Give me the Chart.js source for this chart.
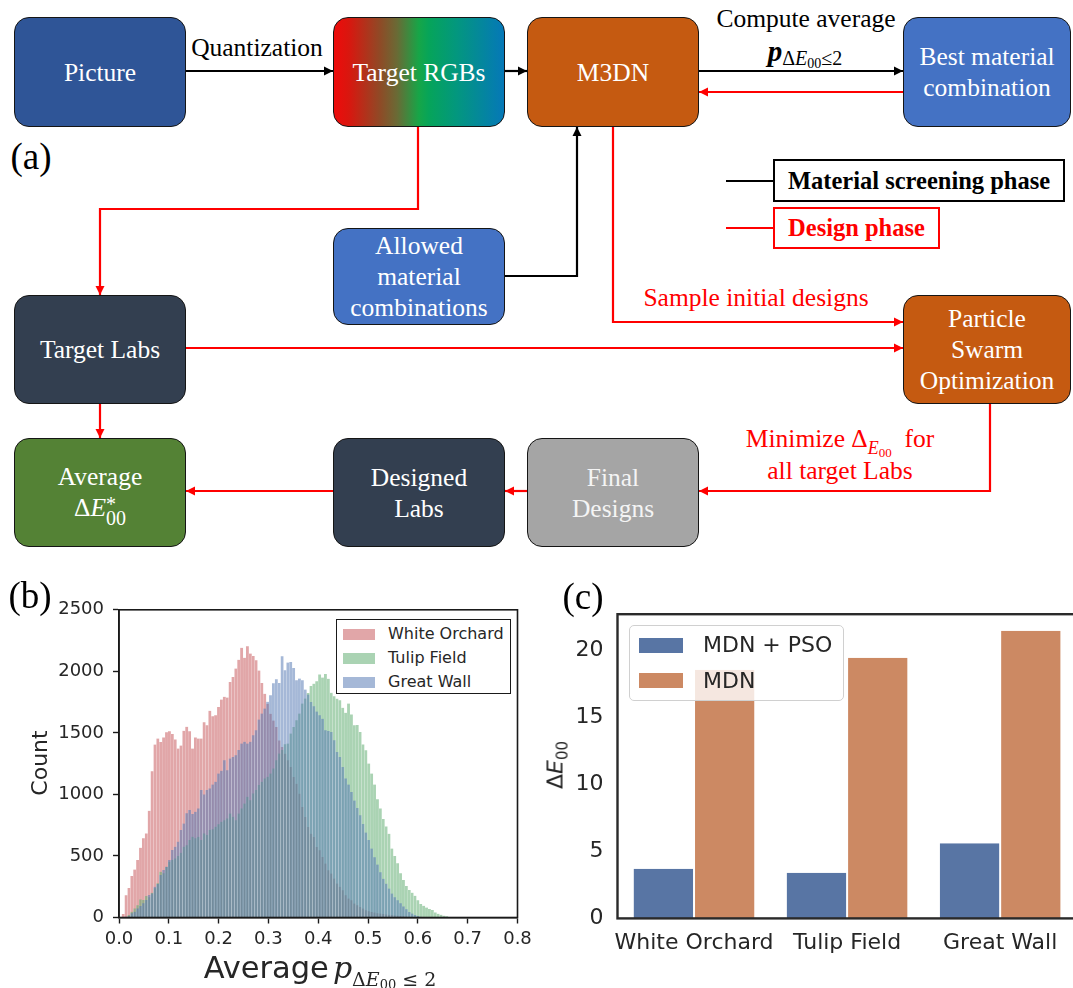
<!DOCTYPE html>
<html><head><meta charset="utf-8">
<script src="https://cdn.jsdelivr.net/npm/chart.js@4.4.0/dist/chart.umd.min.js"></script>
<style>
html,body{margin:0;padding:0;background:#fff;overflow:hidden;}
#root{position:relative;width:1073px;height:988px;overflow:hidden;background:#fff;font-family:"Liberation Serif",serif;}
.box{position:absolute;box-sizing:border-box;border:1.4px solid #151515;border-radius:15px;color:#fff;display:flex;align-items:center;justify-content:center;text-align:center;font-size:25.5px;line-height:31px;}
.lbl{position:absolute;white-space:nowrap;transform:translate(-50%,-50%);}
canvas{position:absolute;}
.sans{font-family:"DejaVu Sans",sans-serif;}
</style></head>
<body><div id="root">
<svg id="arrows" width="1073" height="988" style="position:absolute;left:0;top:0"></svg>

<div class="box" style="left:14px;top:17px;width:172px;height:110px;background:#2f5597">Picture</div>
<div class="box" style="left:333px;top:17px;width:172px;height:110px;background:linear-gradient(90deg,#ee0b0b 0%,#d8170f 9%,#8f4a26 27%,#6a6a35 37%,#16a648 50%,#06a45a 56%,#03977e 72%,#0578b8 100%)">Target RGBs</div>
<div class="box" style="left:527px;top:17px;width:172px;height:110px;background:#c55a11">M3DN</div>
<div class="box" style="left:903px;top:17px;width:168px;height:110px;background:#4472c4">Best material<br>combination</div>
<div class="box" style="left:333px;top:228px;width:172px;height:97px;background:#4472c4">Allowed<br>material<br>combinations</div>
<div class="box" style="left:14px;top:295px;width:172px;height:109px;background:#333f50">Target Labs</div>
<div class="box" style="left:903px;top:295px;width:168px;height:109px;background:#c55a11">Particle<br>Swarm<br>Optimization</div>
<div class="box" style="left:14px;top:438px;width:172px;height:109px;background:#548235"><div>Average<br><span>Δ<i>E</i></span><span style="display:inline-block;vertical-align:-9px;line-height:14px;font-size:20px;text-align:left">*<br>00</span></div></div>
<div class="box" style="left:333px;top:438px;width:172px;height:109px;background:#333f50">Designed<br>Labs</div>
<div class="box" style="left:527px;top:438px;width:172px;height:109px;background:#a5a5a5;color:#f4f4f4">Final<br>Designs</div>

<div class="lbl" style="left:257px;top:48px;font-size:25.5px">Quantization</div>
<div class="lbl" style="left:806px;top:19px;font-size:25.5px">Compute average</div>
<div class="lbl" style="left:805px;top:54px;font-size:29px;line-height:30px"><b><i>p</i></b><span style="font-size:20px;position:relative;top:4px">Δ<i>E</i><span style="font-size:14px;position:relative;top:3px">00</span>≤2</span></div>
<div class="lbl" style="left:31px;top:156px;font-size:37px">(a)</div>
<div style="position:absolute;left:773px;top:159px;width:292px;height:43px;box-sizing:border-box;border:2px solid #000;font-weight:bold;font-size:24.5px;display:flex;align-items:center;justify-content:center;background:#fff">Material screening phase</div>
<div style="position:absolute;left:773px;top:207px;width:167px;height:42px;box-sizing:border-box;border:2px solid #f00;color:#f00;font-weight:bold;font-size:24.5px;display:flex;align-items:center;justify-content:center;background:#fff">Design phase</div>
<div class="lbl" style="left:756px;top:298px;font-size:25.5px;color:#f00">Sample initial designs</div>
<div class="lbl" style="left:840px;top:439px;font-size:25.5px;color:#f00">Minimize Δ<span style="font-size:18px;position:relative;top:7px"><i>E</i><span style="font-size:13px;position:relative;top:3px">00</span></span>&nbsp; for</div>
<div class="lbl" style="left:840px;top:471px;font-size:25.5px;color:#f00">all target Labs</div>

<canvas id="hist" width="545" height="398" style="left:0;top:590px;width:545px;height:398px"></canvas>
<canvas id="bars" width="545" height="401" style="left:540px;top:587px;width:545px;height:401px"></canvas>

<div class="lbl" style="left:30px;top:595px;font-size:37px">(b)</div>
<div class="lbl" style="left:583px;top:596px;font-size:37px">(c)</div>
<div class="lbl sans" style="left:39px;top:763px;font-size:22px;color:#262626;transform:translate(-50%,-50%) rotate(-90deg)">Count</div>
<div class="lbl" style="left:320px;top:967px;color:#262626"><span class="sans" style="font-size:30.5px">Average</span> <span style="font-family:'DejaVu Serif',serif;font-style:italic;font-size:30px">p</span><span style="font-family:'DejaVu Serif',serif;font-size:19px;position:relative;top:8px">Δ<i>E</i><span style="font-size:13px;position:relative;top:3px">00</span> ≤ 2</span></div>
<div class="lbl sans" style="left:555px;top:765px;font-size:22px;color:#262626;transform:translate(-50%,-50%) rotate(-90deg)">Δ<i>E</i><span style="font-size:15px;position:relative;top:5px">00</span></div>

<div id="legB" style="position:absolute;left:336px;top:619px;width:175px;height:75px;box-sizing:border-box;border:1.6px solid #1a1a1a;background:#fff"></div>
<div id="legC" style="position:absolute;left:629px;top:625px;width:215px;height:76px;box-sizing:border-box;border:1.2px solid #d0d0d0;border-radius:5px;background:rgba(255,255,255,0.8)"></div>
</div>

<script>
// ---------- data: panel (b) histogram ----------
const histBinStart = 0.0055;
const histBinWidth = 0.0058;
const histXTicks = [0.0, 0.1, 0.2, 0.3, 0.4, 0.5, 0.6, 0.7, 0.8];
const histYTicks = [0, 500, 1000, 1500, 2000, 2500];
const histSeriesNames = ['White Orchard', 'Tulip Field', 'Great Wall'];
const whiteOrchard = [28,180,240,337,390,467,567,643,683,867,
 1189,1405,1454,1425,1463,1506,1514,1490,1447,1373,
 1397,1517,1549,1514,1373,1463,1454,1454,1587,1562,
 1679,1636,1644,1711,1771,1793,1787,1914,1955,2023,
 2094,2192,2110,2203,2144,2125,2090,2007,1905,1817,
 1737,1655,1600,1547,1439,1385,1331,1277,1223,1141,
 1087,1006,898,816,735,681,654,573,546,492,
 438,384,357,316,276,249,221,181,154,140,
 113,100,86,73,59,50,45,40,35,32,
 28,25,22,20,17,15,12,10,8,6,
 5,3,2,1];
const tulipField = [0,0,20,47,74,100,147,142,174,165,
 201,237,278,372,359,412,453,467,480,500,
 526,575,588,629,656,643,656,629,683,670,
 710,717,737,758,777,791,805,845,818,791,
 845,886,926,981,953,1008,1035,1076,1103,1130,
 1143,1170,1211,1278,1332,1360,1407,1413,1494,1548,
 1603,1657,1738,1779,1824,1880,1900,1920,1975,1950,
 1978,1940,1826,1798,1778,1765,1704,1663,1738,1650,
 1562,1564,1507,1406,1358,1251,1170,1080,960,886,
 800,740,680,560,500,440,359,305,256,223,
 202,176,140,110,95,81,70,60,41,30,
 22,15,11,5,2];
const greatWall = [0,7,10,34,47,74,93,115,142,183,
 196,250,272,345,385,412,467,548,575,616,
 710,764,846,873,840,859,886,1035,1000,1035,
 1049,1080,1103,1170,1192,1278,1197,1292,1305,1319,
 1360,1413,1427,1413,1427,1481,1522,1609,1657,1698,
 1752,1805,1904,1936,1905,2122,2008,2071,2075,2028,
 1927,1942,1927,1852,1811,1751,1717,1673,1643,1615,
 1521,1516,1508,1440,1345,1305,1223,1130,1080,1020,
 950,890,830,760,690,630,560,490,430,368,
 315,275,235,195,165,140,115,90,68,45,
 32,20,12,6,3];

// ---------- data: panel (c) bars ----------
const barCategories = ['White Orchard', 'Tulip Field', 'Great Wall'];
const barSeriesNames = ['MDN + PSO', 'MDN'];
const mdnPso = [3.7, 3.4, 5.6];
const mdnOnly = [18.55, 19.45, 21.47];
const barYTicks = [0, 5, 10, 15, 20];

// ---------- flowchart connectors ----------
(function(){
  const svg = document.getElementById('arrows');
  const NS = 'http://www.w3.org/2000/svg';
  function path(pts, color, head){
    const pl = document.createElementNS(NS,'polyline');
    pl.setAttribute('points', pts.map(p=>p.join(',')).join(' '));
    pl.setAttribute('fill','none'); pl.setAttribute('stroke',color);
    pl.setAttribute('stroke-width','2.2'); pl.setAttribute('stroke-linejoin','miter');
    svg.appendChild(pl);
    if(head){
      const [x1,y1] = pts[pts.length-2], [x2,y2] = pts[pts.length-1];
      const a = Math.atan2(y2-y1,x2-x1), L=9, W=4.5;
      const bx = x2 - L*Math.cos(a), by = y2 - L*Math.sin(a);
      const pg = document.createElementNS(NS,'polygon');
      pg.setAttribute('points', [[x2,y2],[bx+W*Math.sin(a),by-W*Math.cos(a)],[bx-W*Math.sin(a),by+W*Math.cos(a)]].map(p=>p.join(',')).join(' '));
      pg.setAttribute('fill',color);
      svg.appendChild(pg);
    }
  }
  const K='#000', R='#ff0000';
  path([[186,71],[333,71]],K,1);
  path([[505,71],[527,71]],K,1);
  path([[699,71],[903,71]],K,1);
  path([[903,92],[699,92]],R,1);
  path([[505,276],[577,276],[577,127]],K,1);
  path([[613,127],[613,322],[903,322]],R,1);
  path([[418,127],[418,209],[100,209],[100,295]],R,1);
  path([[186,348],[903,348]],R,1);
  path([[100,404],[100,438]],R,1);
  path([[990,404],[990,491],[699,491]],R,1);
  path([[527,491],[505,491]],R,1);
  path([[333,491],[186,491]],R,1);
  path([[726,181],[773,181]],K,0);
  path([[726,228],[773,228]],R,0);
})();

// ---------- charts ----------
const framePlugin = {
  id:'frame',
  afterDraw(chart, args, o){
    const {ctx, chartArea:a} = chart;
    ctx.save(); ctx.strokeStyle = o.color; ctx.lineWidth = o.width;
    ctx.strokeRect(a.left, a.top, a.right-a.left, a.bottom-a.top);
    ctx.restore();
  }
};

const histColors = ['rgba(196,78,82,0.5)','rgba(85,168,104,0.5)','rgba(76,114,176,0.5)'];
const histOrder = [3, 2, 1];
const histData = [whiteOrchard, tulipField, greatWall];
function binned(arr){ return arr.map((v,i)=>({x: histBinStart + (i+0.5)*histBinWidth, y: v})); }

new Chart(document.getElementById('hist'), {
  type:'bar',
  data:{ datasets: histData.map((arr,k)=>({
    label: histSeriesNames[k], data: binned(arr), order: histOrder[k],
    backgroundColor: histColors[k],
    borderColor:'rgba(255,255,255,0.3)',
    borderWidth:{left:0.35,right:0.35,top:0,bottom:0},
    borderSkipped:false,
    grouped:false, barPercentage:1, categoryPercentage:1
  }))},
  options:{
    responsive:false, animation:false, devicePixelRatio:1,
    layout:{padding:{left:0,right:27.5,top:19.5,bottom:0}},
    plugins:{legend:{display:false}, tooltip:{enabled:false}, frame:{color:'#1a1a1a', width:1.6}},
    scales:{
      x:{type:'linear', min:0, max:0.8, offset:false,
        grid:{display:true, drawOnChartArea:false, drawTicks:true, tickLength:6, tickColor:'#1a1a1a', tickWidth:1.4, offset:false},
        border:{display:true, color:'#1a1a1a', width:1.6},
        afterBuildTicks: s => { s.ticks = histXTicks.map(v=>({value:v})); },
        ticks:{color:'#262626', font:{family:'DejaVu Sans', size:18}, padding:5, maxRotation:0, autoSkip:false,
          callback: v => Number(v).toFixed(1)},
        afterFit: s => { s.height = 70.5; }
      },
      y:{min:0, max:2500,
        grid:{display:true, drawOnChartArea:false, drawTicks:true, tickLength:6, tickColor:'#1a1a1a', tickWidth:1.4},
        border:{display:true, color:'#1a1a1a', width:1.6},
        afterBuildTicks: s => { s.ticks = histYTicks.map(v=>({value:v})); },
        ticks:{color:'#262626', font:{family:'DejaVu Sans', size:18}, padding:9, callback: v => String(v)},
        afterFit: s => { s.width = 119; }
      }
    }
  },
  plugins:[framePlugin]
});

new Chart(document.getElementById('bars'), {
  type:'bar',
  data:{ labels: barCategories, datasets:[
    {label: barSeriesNames[0], data: mdnPso, backgroundColor:'#5875a4', borderColor:'#ffffff', borderWidth:{left:1,right:1,top:0,bottom:0}, borderSkipped:false},
    {label: barSeriesNames[1], data: mdnOnly, backgroundColor:'#cc8963', borderColor:'#ffffff', borderWidth:{left:1,right:1,top:0,bottom:0}, borderSkipped:false}
  ]},
  options:{
    responsive:false, animation:false, devicePixelRatio:1,
    layout:{padding:{left:0,right:8.3,top:0,bottom:0}},
    datasets:{bar:{barPercentage:1, categoryPercentage:0.8}},
    plugins:{legend:{display:false}, tooltip:{enabled:false}, frame:{color:'#2a2a2a', width:2.4}},
    scales:{
      x:{grid:{display:false, drawTicks:false}, border:{display:false},
        ticks:{color:'#262626', font:{family:'DejaVu Sans', size:22}, padding:12, maxRotation:0, autoSkip:false},
        afterFit: s => { s.height = 69.6; }
      },
      y:{min:0, max:22.7,
        grid:{display:false, drawTicks:false}, border:{display:false},
        afterBuildTicks: s => { s.ticks = barYTicks.map(v=>({value:v})); },
        ticks:{color:'#262626', font:{family:'DejaVu Sans', size:22}, padding:14},
        afterFit: s => { s.width = 77.5; }
      }
    }
  },
  plugins:[framePlugin]
});

// ---------- legends (HTML text) ----------
(function(){
  const lb = document.getElementById('legB');
  histSeriesNames.forEach((n,k)=>{
    const cy = 14 + k*24.2;
    lb.insertAdjacentHTML('beforeend',
      `<div style="position:absolute;left:6px;top:${cy-5.5}px;width:32px;height:11px;background:${histColors[k]}"></div>`+
      `<div class="sans" style="position:absolute;left:51px;top:${cy-10}px;font-size:16px;line-height:20px;color:#262626;white-space:nowrap">${n}</div>`);
  });
  const lc = document.getElementById('legC');
  const cc = ['#5875a4','#cc8963'];
  barSeriesNames.forEach((n,k)=>{
    const cy = 19 + k*35.5;
    lc.insertAdjacentHTML('beforeend',
      `<div style="position:absolute;left:9px;top:${cy-7.5}px;width:44px;height:15px;background:${cc[k]}"></div>`+
      `<div class="sans" style="position:absolute;left:73px;top:${cy-13}px;font-size:22px;line-height:26px;color:#262626;white-space:nowrap">${n}</div>`);
  });
})();
</script>
</body></html>
